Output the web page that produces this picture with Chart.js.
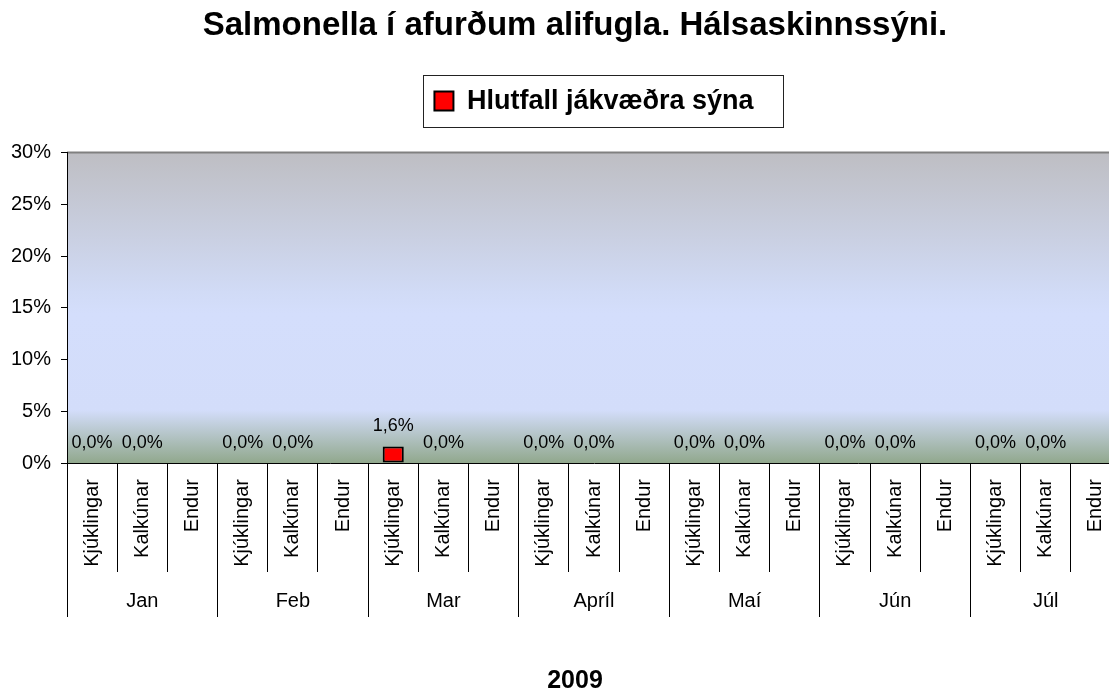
<!DOCTYPE html>
<html>
<head>
<meta charset="utf-8">
<script src="https://cdn.jsdelivr.net/npm/chart.js@4.4.1/dist/chart.umd.min.js"></script>
<style>
  html, body { margin: 0; padding: 0; overflow: hidden; background: #ffffff; }
  canvas { display: block; }
</style>
</head>
<body>
<canvas id="c" width="1150" height="696" style="width:1150px;height:696px"></canvas>
<script>
// ---- data ----
const titleText = 'Salmonella í afurðum alifugla. Hálsaskinnssýni.';
const seriesName = 'Hlutfall jákvæðra sýna';
const yearLabel = '2009';
const months = ['Jan', 'Feb', 'Mar', 'Apríl', 'Maí', 'Jún', 'Júl'];
const birdTypes = ['Kjúklingar', 'Kalkúnar', 'Endur'];
const positiveRate = [
  0, 0, null,     // Jan
  0, 0, null,     // Feb
  1.6, 0, null,   // Mar
  0, 0, null,     // Apríl
  0, 0, null,     // Maí
  0, 0, null,     // Jún
  0, 0, null      // Júl
];
const yMin = 0, yMax = 30, yStep = 5;

const categories = months.flatMap(() => birdTypes);

Chart.defaults.font.family = '"Liberation Sans", Arial, Helvetica, sans-serif';
Chart.defaults.color = '#000';

const fmtPct = v => v.toFixed(1).replace('.', ',') + '%';

const plotBg = {
  id: 'plotBg',
  beforeDraw(chart) {
    const { ctx, chartArea: a } = chart;
    const g = ctx.createLinearGradient(0, a.top, 0, a.bottom);
    g.addColorStop(0, '#bebec3');
    g.addColorStop(0.45, '#d1dbf6');
    g.addColorStop(0.52, '#d4defc');
    g.addColorStop(0.83, '#d3ddfa');
    g.addColorStop(1, '#91a88d');
    ctx.save();
    ctx.fillStyle = g;
    ctx.fillRect(a.left, a.top, a.right - a.left, a.bottom - a.top);
    ctx.strokeStyle = '#808080';
    ctx.lineWidth = 2;
    ctx.beginPath();
    ctx.moveTo(a.left, a.top);
    ctx.lineTo(a.right, a.top);
    ctx.stroke();
    ctx.restore();
  }
};

const legendFrame = {
  id: 'legendFrame',
  afterDraw(chart) {
    const lg = chart.legend;
    if (!lg || !lg.legendHitBoxes || !lg.legendHitBoxes.length) return;
    const hb = lg.legendHitBoxes[0];
    const cy = hb.top + hb.height / 2;
    const ctx = chart.ctx;
    ctx.save();
    ctx.strokeStyle = '#222';
    ctx.lineWidth = 1;
    ctx.strokeRect(Math.round(hb.left - 11) + 0.5, Math.round(cy - 26) + 0.5, Math.round(hb.width + 41), 52);
    ctx.restore();
  }
};

const valueLabels = {
  id: 'valueLabels',
  afterDatasetsDraw(chart) {
    const ctx = chart.ctx;
    const meta = chart.getDatasetMeta(0);
    const data = chart.data.datasets[0].data;
    ctx.save();
    ctx.font = '18px "Liberation Sans", Arial, sans-serif';
    ctx.fillStyle = '#000';
    ctx.textAlign = 'center';
    ctx.textBaseline = 'middle';
    meta.data.forEach((el, i) => {
      const v = data[i];
      if (v === null || v === undefined) return;
      ctx.fillText(fmtPct(v), el.x, el.y - 20);
    });
    ctx.restore();
  }
};

new Chart(document.getElementById('c'), {
  type: 'bar',
  data: {
    labels: categories,
    datasets: [{
      label: seriesName,
      data: positiveRate,
      xAxisID: 'x',
      yAxisID: 'y',
      backgroundColor: '#ff0000',
      borderColor: '#000000',
      borderWidth: 2,
      borderSkipped: false,
      barPercentage: 0.42,
      categoryPercentage: 1.0
    }]
  },
  options: {
    responsive: false,
    animation: false,
    devicePixelRatio: 1,
    layout: { padding: 0 },
    plugins: {
      title: {
        display: true, text: titleText, color: '#000',
        font: { size: 33, weight: 'bold' },
        padding: { top: 6, bottom: 29 }
      },
      subtitle: {
        display: true, text: yearLabel, position: 'bottom', color: '#000',
        font: { size: 25, weight: 'bold' },
        padding: { top: 10, bottom: 0 }
      },
      legend: {
        display: true, position: 'top', fullSize: false,
        labels: { color: '#000', font: { size: 27, weight: 'bold' }, boxWidth: 19, boxHeight: 19, padding: 13 }
      },
      tooltip: { enabled: false }
    },
    scales: {
      x: {
        type: 'category', position: 'bottom', weight: 0, offset: true,
        grid: { display: true, offset: true, drawOnChartArea: false, drawTicks: true, tickLength: 109, color: '#000', lineWidth: 1 },
        border: { display: true, color: '#000', width: 1 },
        ticks: { autoSkip: false, minRotation: 90, maxRotation: 90, padding: -93, color: '#000', font: { size: 20 } },
        afterFit(s) { s.height = 109; }
      },
      x2: {
        type: 'category', labels: months, position: 'bottom', weight: 1, offset: true,
        grid: { display: true, offset: true, drawOnChartArea: false, drawTicks: true, tickLength: 45, color: '#000', lineWidth: 1 },
        border: { display: false },
        ticks: { autoSkip: false, minRotation: 0, maxRotation: 0, padding: -28, color: '#000', font: { size: 20 } },
        afterFit(s) { s.height = 84; }
      },
      xTopSpacer: {
        type: 'category', labels: categories, position: 'top', display: true,
        grid: { display: false }, border: { display: false }, ticks: { display: false },
        afterFit(s) { s.height = 28; }
      },
      yRightSpacer: {
        type: 'linear', position: 'right', display: true, min: yMin, max: yMax,
        grid: { display: false }, border: { display: false }, ticks: { display: false },
        afterFit(s) { s.width = 29; }
      },
      y: {
        type: 'linear', position: 'left', min: yMin, max: yMax,
        grid: { display: true, drawOnChartArea: false, drawTicks: true, tickLength: 6, color: '#000' },
        border: { display: true, color: '#000', width: 1 },
        ticks: { stepSize: yStep, padding: 10, color: '#000', font: { size: 20 }, callback: v => v + '%' },
        afterFit(s) { s.width = 67; }
      }
    }
  },
  plugins: [plotBg, valueLabels, legendFrame]
});
</script>
</body>
</html>
